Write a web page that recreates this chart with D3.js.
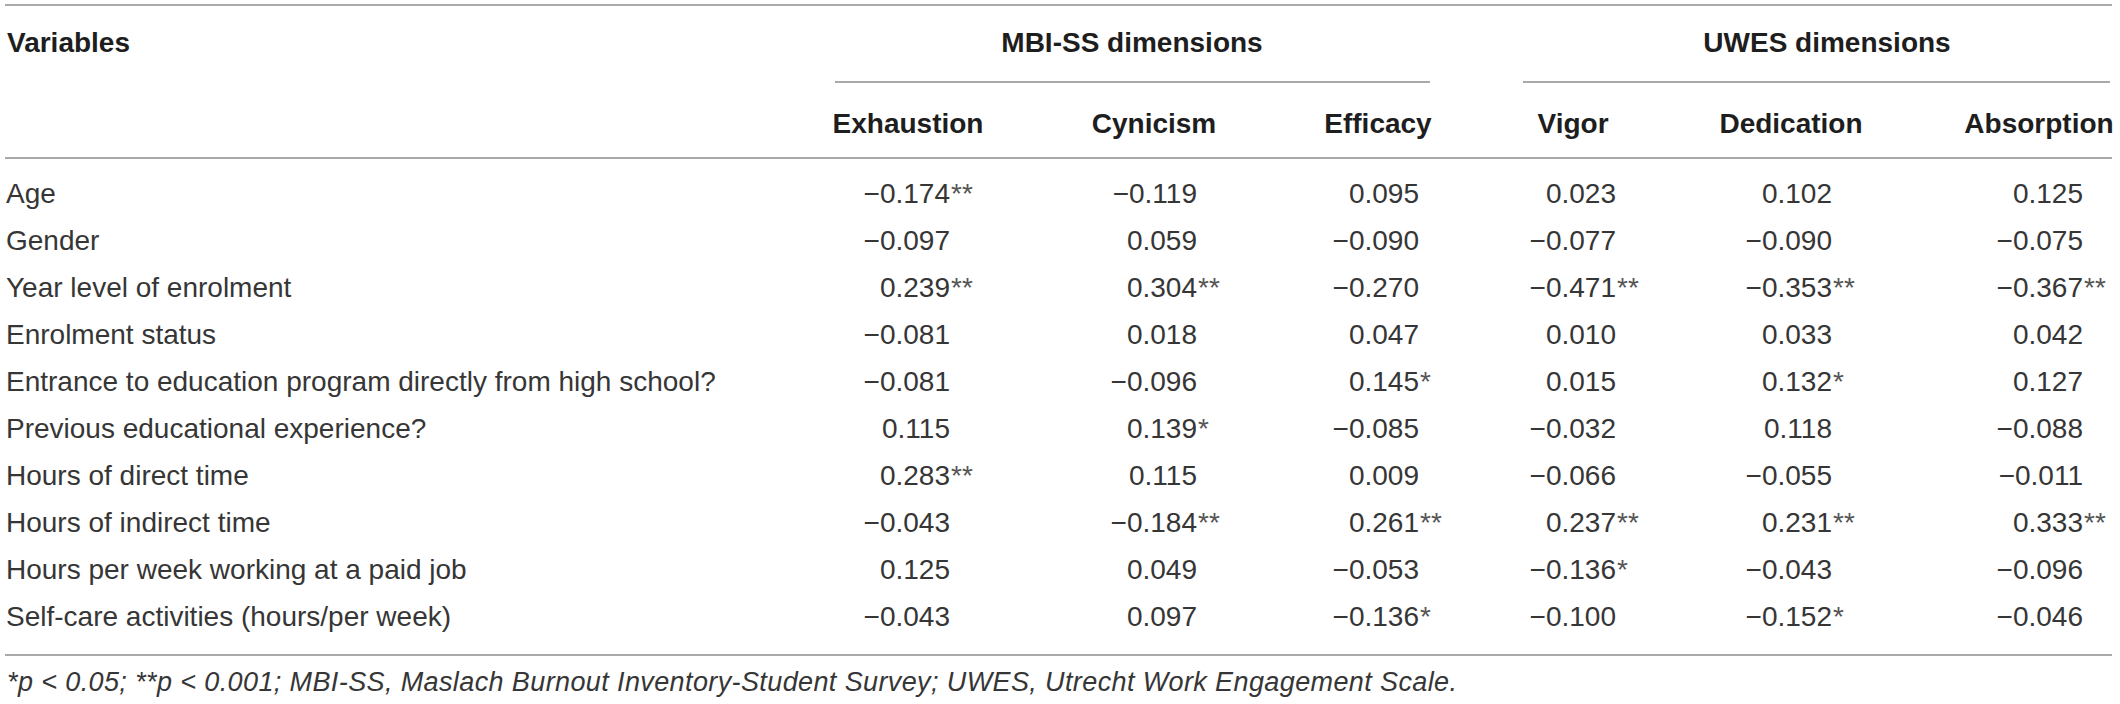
<!DOCTYPE html>
<html>
<head>
<meta charset="utf-8">
<script src="https://cdn.jsdelivr.net/npm/d3@7"></script>
<style>
  html, body { margin: 0; padding: 0; background: #fff; }
  svg { display: block; }
  text { font-family: "Liberation Sans", Arial, Helvetica, sans-serif; }
</style>
</head>
<body>
<svg id="chart" width="2120" height="704"></svg>
<script>
// ---- data ----
const variables = [
  "Age",
  "Gender",
  "Year level of enrolment",
  "Enrolment status",
  "Entrance to education program directly from high school?",
  "Previous educational experience?",
  "Hours of direct time",
  "Hours of indirect time",
  "Hours per week working at a paid job",
  "Self-care activities (hours/per week)"
];
const groups = ["MBI-SS dimensions", "UWES dimensions"];
const columns = ["Exhaustion", "Cynicism", "Efficacy", "Vigor", "Dedication", "Absorption"];

const exhaustion = [-0.174, -0.097, 0.239, -0.081, -0.081, 0.115, 0.283, -0.043, 0.125, -0.043];
const cynicism   = [-0.119, 0.059, 0.304, 0.018, -0.096, 0.139, 0.115, -0.184, 0.049, 0.097];
const efficacy   = [0.095, -0.090, -0.270, 0.047, 0.145, -0.085, 0.009, 0.261, -0.053, -0.136];
const vigor      = [0.023, -0.077, -0.471, 0.010, 0.015, -0.032, -0.066, 0.237, -0.136, -0.100];
const dedication = [0.102, -0.090, -0.353, 0.033, 0.132, 0.118, -0.055, 0.231, -0.043, -0.152];
const absorption = [0.125, -0.075, -0.367, 0.042, 0.127, -0.088, -0.011, 0.333, -0.096, -0.046];

const exhaustionSig = ["**", "", "**", "", "", "", "**", "", "", ""];
const cynicismSig   = ["", "", "**", "", "", "*", "", "**", "", ""];
const efficacySig   = ["", "", "", "", "*", "", "", "**", "", "*"];
const vigorSig      = ["", "", "**", "", "", "", "", "**", "*", ""];
const dedicationSig = ["", "", "**", "", "*", "", "", "**", "", "*"];
const absorptionSig = ["", "", "**", "", "", "", "", "**", "", ""];

const footnote = "*p < 0.05; **p < 0.001; MBI-SS, Maslach Burnout Inventory-Student Survey; UWES, Utrecht Work Engagement Scale.";
const stubHeader = "Variables";

// ---- build table ----
const series = [exhaustion, cynicism, efficacy, vigor, dedication, absorption];
const sigs = [exhaustionSig, cynicismSig, efficacySig, vigorSig, dedicationSig, absorptionSig];
const cells = [];
columns.forEach((c, j) => {
  variables.forEach((v, i) => {
    cells.push({ col: c, row: v, value: series[j][i], sig: sigs[j][i] });
  });
});

// ---- layout ----
const W = 2120, H = 704;
const left = 5, right = 2112;
const lineColor = "#8c8c8c";
const textColor = "#363636";
const headColor = "#1e1e1e";
const fontSize = 28;

const svg = d3.select("#chart");
svg.append("rect").attr("width", W).attr("height", H).attr("fill", "#fff");

// row positions (baselines)
const y = d3.scalePoint().domain(variables).range([203, 626]);
// column numeric right edge & header centres
const xNum = d3.scaleOrdinal().domain(columns).range([950, 1197, 1419, 1616, 1832, 2083]);
const xHead = d3.scaleOrdinal().domain(columns).range([908, 1154, 1378, 1573, 1791, 2039]);
const groupText = d3.scaleOrdinal().domain(groups).range([1132, 1827]);
const groupLine = d3.scaleOrdinal().domain(groups).range([[835, 1430], [1523, 2110]]);

const fmt = d3.format(".3f");

// horizontal rules
const rules = [5, 158, 655];
svg.selectAll("line.rule").data(rules).join("line")
  .attr("class", "rule")
  .attr("x1", left).attr("x2", right)
  .attr("y1", d => d).attr("y2", d => d)
  .attr("stroke", lineColor).attr("stroke-width", 1.6);

// group spanning lines
svg.selectAll("line.span").data(groups).join("line")
  .attr("class", "span")
  .attr("x1", d => groupLine(d)[0]).attr("x2", d => groupLine(d)[1])
  .attr("y1", 82).attr("y2", 82)
  .attr("stroke", lineColor).attr("stroke-width", 1.6);

// stub header
svg.append("text")
  .attr("x", 7).attr("y", 52)
  .attr("font-size", fontSize).attr("font-weight", "bold")
  .attr("fill", headColor)
  .text(stubHeader);

// group headers
svg.selectAll("text.group").data(groups).join("text")
  .attr("class", "group")
  .attr("x", d => groupText(d)).attr("y", 52)
  .attr("text-anchor", "middle")
  .attr("font-size", fontSize).attr("font-weight", "bold")
  .attr("fill", headColor)
  .text(d => d);

// column headers
svg.selectAll("text.colhead").data(columns).join("text")
  .attr("class", "colhead")
  .attr("x", d => xHead(d)).attr("y", 133)
  .attr("text-anchor", "middle")
  .attr("font-size", fontSize).attr("font-weight", "bold")
  .attr("fill", headColor)
  .text(d => d);

// row labels
svg.selectAll("text.rowlab").data(variables).join("text")
  .attr("class", "rowlab")
  .attr("x", 6).attr("y", d => y(d))
  .attr("font-size", fontSize)
  .attr("fill", textColor)
  .text(d => d);

// numeric cells
svg.selectAll("text.num").data(cells).join("text")
  .attr("class", "num")
  .attr("x", d => xNum(d.col)).attr("y", d => y(d.row))
  .attr("text-anchor", "end")
  .attr("font-size", fontSize)
  .attr("fill", textColor)
  .text(d => fmt(d.value));

// significance stars
svg.selectAll("text.sig").data(cells.filter(d => d.sig)).join("text")
  .attr("class", "sig")
  .attr("x", d => xNum(d.col) + 1).attr("y", d => y(d.row))
  .attr("text-anchor", "start")
  .attr("font-size", fontSize)
  .attr("fill", "#555")
  .text(d => d.sig);

// footnote
svg.append("text")
  .attr("x", 7).attr("y", 691)
  .attr("font-size", 27).attr("font-style", "italic")
  .attr("fill", textColor)
  .attr("textLength", 1450).attr("lengthAdjust", "spacing")
  .text(footnote);
</script>
</body>
</html>
